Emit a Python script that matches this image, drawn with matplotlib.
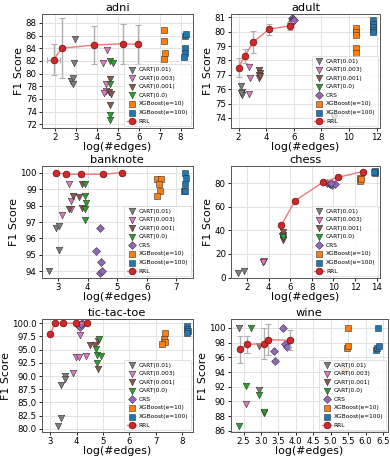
import matplotlib
matplotlib.use("Agg")
import matplotlib.pyplot as plt
from matplotlib.ticker import FormatStrFormatter

plt.rcParams['font.family'] = ['DejaVu Sans']

labels = ["CART(0.01)", "CART(0.003)", "CART(0.001)", "CART(0.0)", "CRS",
          "XGBoost(e=10)", "XGBoost(e=100)"]
colors = ['#7f7f7f', '#e377c2', '#8c564b', '#2ca02c', '#9467bd', '#ff7f0e', '#1f77b4']
markers = ['v', 'v', 'v', 'v', 'D', 's', 's']

# ---------------- adni ----------------
adni_cart001_x = [2.95, 2.9, 2.75, 2.85, 2.85]
adni_cart001_y = [85.5, 81.7, 78.9, 79.3, 78.3]
adni_cart0003_x = [4.5, 4.3, 4.45, 4.45, 4.35]
adni_cart0003_y = [83.7, 81.6, 78.3, 77.2, 76.9]
adni_cart0001_x = [4.65, 4.6, 4.7, 4.65]
adni_cart0001_y = [79.1, 77.1, 76.7, 75.1]
adni_cart00_x = [4.65, 4.75, 4.65, 4.65, 4.65]
adni_cart00_y = [82.0, 81.6, 78.3, 73.5, 72.6]
adni_xgb10_x = [7.2, 7.2, 7.25, 7.2]
adni_xgb10_y = [86.9, 85.2, 83.3, 82.3]
adni_xgb100_x = [8.2, 8.27, 8.23, 8.23, 8.18]
adni_xgb100_y = [86.0, 86.2, 84.1, 83.2, 82.6]
adni_rrl_x = [1.93, 2.33, 3.88, 5.23, 5.98]
adni_rrl_y = [82.2, 84.0, 84.5, 84.7, 84.6]
adni_rrl_yerr = [2.4, 4.7, 3.0, 3.2, 3.1]
adni_rrl_xerr = [0.3, 0.0, 0.0, 0.0, 0.0]

# ---------------- adult ----------------
adult_cart001_x = [2.2, 2.25, 2.25, 2.2]
adult_cart001_y = [76.2, 75.8, 75.6, 75.7]
adult_cart0003_x = [2.72, 2.85, 2.72]
adult_cart0003_y = [77.55, 76.75, 75.65]
adult_cart0001_x = [3.5, 3.52, 3.5, 3.48, 3.52]
adult_cart0001_y = [77.35, 77.15, 77.0, 76.8, 76.95]
adult_cart00_x = [8.95, 8.95]
adult_cart00_y = [74.0, 74.1]
adult_crs_x = [5.85, 5.95, 5.8, 5.9, 6.0]
adult_crs_y = [80.95, 80.85, 80.6, 80.75, 80.8]
adult_xgb10_x = [10.5, 10.5, 10.5, 10.5, 10.5]
adult_xgb10_y = [80.23, 80.0, 79.77, 78.84, 78.49]
adult_xgb100_x = [11.75, 11.75, 11.75, 11.75, 11.75]
adult_xgb100_y = [80.8, 80.5, 80.3, 80.1, 80.0]
adult_rrl_x = [2.0, 2.45, 3.05, 4.22, 5.72]
adult_rrl_y = [77.5, 78.3, 79.27, 80.18, 80.4]
adult_rrl_yerr = [0.65, 0.5, 0.75, 0.38, 0.3]

# ---------------- banknote ----------------
bank_cart001_x = [2.68, 3.05, 2.95, 3.02]
bank_cart001_y = [94.0, 95.3, 96.65, 96.75]
bank_cart0003_x = [3.38, 3.43, 3.12, 3.45]
bank_cart0003_y = [99.3, 98.25, 97.4, 97.8]
bank_cart0001_x = [3.5, 3.7, 3.8, 3.8, 3.37]
bank_cart0001_y = [98.55, 98.5, 99.3, 97.85, 97.8]
bank_cart00_x = [3.9, 3.9, 3.95, 3.91, 3.9]
bank_cart00_y = [99.3, 98.6, 98.15, 97.8, 97.1]
bank_crs_x = [4.41, 4.3, 4.45, 4.41, 4.49]
bank_crs_y = [96.65, 95.25, 94.55, 93.9, 94.0]
bank_xgb10_x = [6.36, 6.49, 6.42, 6.46, 6.34]
bank_xgb10_y = [99.6, 99.6, 99.3, 98.9, 98.55]
bank_xgb100_x = [7.3, 7.34, 7.3, 7.27, 7.3]
bank_xgb100_y = [100.0, 99.65, 99.3, 98.9, 98.9]
bank_rrl_x = [2.95, 3.28, 3.79, 4.53, 5.17]
bank_rrl_y = [100.0, 99.9, 99.9, 99.9, 100.0]
bank_rrl_yerr = [0.05, 0.08, 0.08, 0.08, 0.05]

# ---------------- chess ----------------
chess_cart001_x = [1.15, 1.7, 5.3, 5.3]
chess_cart001_y = [4.2, 5.6, 36.0, 33.0]
chess_cart0003_x = [3.45, 3.6, 3.5]
chess_cart0003_y = [12.8, 14.2, 13.5]
chess_cart0001_x = [5.3, 5.3, 5.28]
chess_cart0001_y = [38.5, 32.0, 35.0]
chess_cart00_x = [5.3, 9.55, 9.6]
chess_cart00_y = [34.5, 80.5, 79.5]
chess_crs_x = [9.4, 9.7, 9.9, 10.1, 9.8]
chess_crs_y = [80.5, 79.5, 78.8, 79.2, 80.0]
chess_xgb10_x = [12.5, 12.5, 12.55]
chess_xgb10_y = [84.5, 82.2, 83.3]
chess_xgb100_x = [13.85, 13.85, 13.8]
chess_xgb100_y = [90.0, 88.5, 89.2]
chess_rrl_x = [5.17, 6.46, 9.02, 10.46, 12.7]
chess_rrl_y = [44.4, 65.2, 80.8, 85.0, 89.9]
chess_rrl_yerr = [0.8, 0.5, 0.5, 0.5, 0.5]

# ---------------- tic-tac-toe ----------------
ttt_cart001_x = [3.28, 3.41, 3.41, 3.54, 3.54]
ttt_cart001_y = [80.6, 82.0, 88.3, 90.1, 89.5]
ttt_cart0003_x = [3.85, 3.98, 4.08, 4.34, 4.13]
ttt_cart0003_y = [90.5, 93.6, 93.6, 93.8, 97.8]
ttt_cart0001_x = [4.52, 4.69, 4.81, 4.79]
ttt_cart0001_y = [95.9, 95.9, 96.7, 91.4]
ttt_cart00_x = [4.84, 4.75, 4.77, 4.94, 4.77]
ttt_cart00_y = [97.1, 95.2, 94.0, 93.8, 92.4]
ttt_crs_x = [4.1, 4.15, 4.2, 4.12, 4.18]
ttt_crs_y = [99.4, 99.7, 100.0, 99.2, 99.9]
ttt_xgb10_x = [7.35, 7.3, 7.35, 7.25]
ttt_xgb10_y = [98.2, 97.1, 96.5, 96.0]
ttt_xgb100_x = [8.2, 8.2, 8.22, 8.18]
ttt_xgb100_y = [99.5, 99.0, 98.6, 98.1]
ttt_rrl_x = [2.99, 3.18, 3.47, 3.98, 4.39]
ttt_rrl_y = [98.0, 100.0, 100.0, 100.0, 100.0]
ttt_rrl_yerr = [0.1, 0.0, 0.0, 0.0, 0.0]

# ---------------- wine ----------------
wine_cart001_x = [2.38, 2.93, 2.93]
wine_cart001_y = [100.0, 97.6, 91.5]
wine_cart0003_x = [2.57]
wine_cart0003_y = [89.6]
wine_cart0001_x = [3.1]
wine_cart0001_y = [88.4]
wine_cart00_x = [2.71, 2.57, 2.93, 3.1, 2.38]
wine_cart00_y = [100.0, 92.1, 90.9, 88.6, 86.7]
wine_crs_x = [3.64, 3.36, 3.4, 3.69, 3.74]
wine_crs_y = [100.0, 96.85, 95.55, 97.8, 97.4]
wine_xgb10_x = [5.5, 5.47, 5.5, 5.4]
wine_xgb10_y = [100.0, 97.2, 97.5, 94.3]
wine_xgb100_x = [6.35, 6.3, 6.32, 6.38]
wine_xgb100_y = [100.0, 97.0, 97.2, 97.5]
wine_rrl_x = [2.4, 2.6, 3.1, 3.2, 3.83]
wine_rrl_y = [97.1, 97.74, 97.87, 98.4, 98.3]
wine_rrl_yerr = [1.85, 1.15, 2.05, 2.1, 1.35]

W, H = 390, 457
fig = plt.figure(figsize=(W / 100, H / 100), dpi=100)


def box(l, t, r, b):
    return [l / W, 1 - b / H, (r - l) / W, (b - t) / H]


def panel(rect, title, series, rx, ry, ryerr, rxerr, xlim, ylim, xticks, yticks, yfmt=None):
    ax = fig.add_axes(rect)
    ax.grid(True, color='#e2e2e2', linewidth=0.7, zorder=0)
    ax.set_axisbelow(True)
    for i, (xs, ys) in enumerate(series):
        if xs is None:
            continue
        ax.scatter(xs, ys, marker=markers[i], c=colors[i], edgecolors='#333333',
                   linewidths=0.4, s=22 if markers[i] != 'D' else 16,
                   label=labels[i], zorder=3)
    ax.errorbar(rx, ry, yerr=ryerr, xerr=rxerr, fmt='none', ecolor='#b0b0b0',
                elinewidth=1.0, capsize=2, capthick=0.8, zorder=4)
    ax.plot(rx, ry, '-o', color='#f07878', lw=1.0, mfc='#d62728', mec='#6a0a0a',
            mew=0.5, ms=4.8, label='RRL', zorder=5)
    ax.set_xlim(*xlim)
    ax.set_ylim(*ylim)
    ax.set_xticks(xticks)
    ax.set_yticks(yticks)
    if yfmt:
        ax.yaxis.set_major_formatter(FormatStrFormatter(yfmt))
    ax.tick_params(labelsize=6.2, length=2.5, width=0.6, pad=1.2)
    for s in ax.spines.values():
        s.set_color('#555555')
        s.set_linewidth(0.7)
    ax.set_title(title, fontsize=8.2, pad=2.0)
    ax.set_xlabel('log(#edges)', fontsize=7.9, labelpad=0.2)
    ax.set_ylabel('F1 Score', fontsize=7.9, labelpad=1.2)
    leg = ax.legend(loc='lower right', fontsize=4.2, framealpha=0.8,
                    borderpad=0.45, handletextpad=0.4, labelspacing=0.6,
                    handlelength=1.6, borderaxespad=0.3, fancybox=True)
    leg.get_frame().set_linewidth(0.5)
    return ax


panel(box(42, 14, 192.5, 128), 'adni',
      [(adni_cart001_x, adni_cart001_y), (adni_cart0003_x, adni_cart0003_y),
       (adni_cart0001_x, adni_cart0001_y), (adni_cart00_x, adni_cart00_y),
       (None, None), (adni_xgb10_x, adni_xgb10_y), (adni_xgb100_x, adni_xgb100_y)],
      adni_rrl_x, adni_rrl_y, adni_rrl_yerr, adni_rrl_xerr,
      (1.38, 8.57), (71.4, 89.4), [2, 3, 4, 5, 6, 7, 8], list(range(72, 89, 2)))

panel(box(231, 14, 380, 128), 'adult',
      [(adult_cart001_x, adult_cart001_y), (adult_cart0003_x, adult_cart0003_y),
       (adult_cart0001_x, adult_cart0001_y), (adult_cart00_x, adult_cart00_y),
       (adult_crs_x, adult_crs_y), (adult_xgb10_x, adult_xgb10_y),
       (adult_xgb100_x, adult_xgb100_y)],
      adult_rrl_x, adult_rrl_y, adult_rrl_yerr, None,
      (1.45, 12.25), (73.3, 81.23), [2, 4, 6, 8, 10, 12], list(range(74, 82)))

panel(box(42, 166, 192.5, 278), 'banknote',
      [(bank_cart001_x, bank_cart001_y), (bank_cart0003_x, bank_cart0003_y),
       (bank_cart0001_x, bank_cart0001_y), (bank_cart00_x, bank_cart00_y),
       (bank_crs_x, bank_crs_y), (bank_xgb10_x, bank_xgb10_y),
       (bank_xgb100_x, bank_xgb100_y)],
      bank_rrl_x, bank_rrl_y, bank_rrl_yerr, None,
      (2.46, 7.55), (93.6, 100.4), [3, 4, 5, 6, 7], list(range(94, 101)))

panel(box(231, 166, 380, 278), 'chess',
      [(chess_cart001_x, chess_cart001_y), (chess_cart0003_x, chess_cart0003_y),
       (chess_cart0001_x, chess_cart0001_y), (chess_cart00_x, chess_cart00_y),
       (chess_crs_x, chess_crs_y), (chess_xgb10_x, chess_xgb10_y),
       (chess_xgb100_x, chess_xgb100_y)],
      chess_rrl_x, chess_rrl_y, chess_rrl_yerr, None,
      (0.52, 14.31), (-0.4, 94.6), [2, 4, 6, 8, 10, 12, 14], [0, 20, 40, 60, 80])

panel(box(42, 319, 192.5, 432), 'tic-tac-toe',
      [(ttt_cart001_x, ttt_cart001_y), (ttt_cart0003_x, ttt_cart0003_y),
       (ttt_cart0001_x, ttt_cart0001_y), (ttt_cart00_x, ttt_cart00_y),
       (ttt_crs_x, ttt_crs_y), (ttt_xgb10_x, ttt_xgb10_y),
       (ttt_xgb100_x, ttt_xgb100_y)],
      ttt_rrl_x, ttt_rrl_y, ttt_rrl_yerr, None,
      (2.68, 8.4), (79.4, 100.8), [3, 4, 5, 6, 7, 8],
      [80, 82.5, 85, 87.5, 90, 92.5, 95, 97.5, 100], yfmt='%.1f')

panel(box(231, 319, 387.5, 432), 'wine',
      [(wine_cart001_x, wine_cart001_y), (wine_cart0003_x, wine_cart0003_y),
       (wine_cart0001_x, wine_cart0001_y), (wine_cart00_x, wine_cart00_y),
       (wine_crs_x, wine_crs_y), (wine_xgb10_x, wine_xgb10_y),
       (wine_xgb100_x, wine_xgb100_y)],
      wine_rrl_x, wine_rrl_y, wine_rrl_yerr, None,
      (2.14, 6.63), (85.85, 101.2), [2.5, 3.0, 3.5, 4.0, 4.5, 5.0, 5.5, 6.0, 6.5],
      list(range(86, 101, 2)))

fig.savefig('out.png', dpi=100)
